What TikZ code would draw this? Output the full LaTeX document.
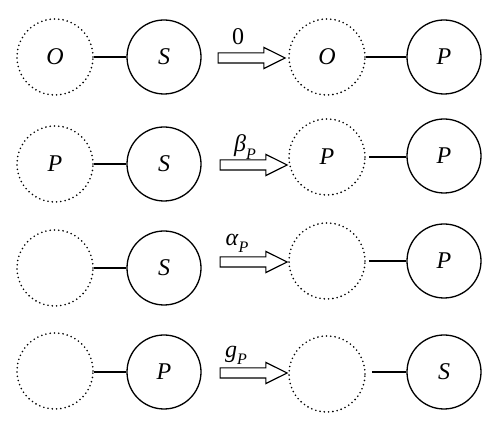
\documentclass[tikz,border=0pt]{standalone}
\usepackage{fontspec}
\setmainfont{Liberation Serif}
\usetikzlibrary{shapes.arrows}
\newcommand{\subP}{\raisebox{-0.3em}{\fontsize{16}{18}\selectfont\itshape P}}
\begin{document}
\begin{tikzpicture}[x=1pt,y=1pt,
  lbl/.style={font=\fontsize{24}{28}\selectfont},
  solidcirc/.style={circle,draw,line width=1.3pt,minimum size=74pt,inner sep=0pt,lbl},
  dotcirc/.style={circle,draw,line width=1.8pt,dash pattern=on 0pt off 4.3pt,line cap=round,minimum size=76pt,inner sep=0pt,lbl},
  link/.style={line width=1.2pt},
  fat/.style={single arrow,draw,line width=1.2pt,minimum height=67pt,inner sep=4.5pt,
     single arrow head extend=5.5pt,single arrow tip angle=53,single arrow head indent=0pt}]
\useasboundingbox (0,0) rectangle (500,430);
% Row 1
\node[dotcirc]   (a1) at (55,373) {\textit{O}};
\node[solidcirc] (b1) at (164,373) {\textit{S}};
\node[fat]       (f1) at (246.5,372) {};
\node[dotcirc]   (c1) at (327,373) {\textit{O}};
\node[solidcirc] (d1) at (444,373) {\textit{P}};
\node[lbl]       (t1) at (238,393) {0};
\draw[link] (a1) -- (b1);
\draw[link] (c1) -- (d1);
% Row 2
\node[dotcirc]   (a2) at (55,266) {\textit{P}};
\node[solidcirc] (b2) at (164,266) {\textit{S}};
\node[fat]       (f2) at (248.5,265) {};
\node[dotcirc]   (c2) at (327,273) {\textit{P}};
\node[solidcirc] (d2) at (444,274) {\textit{P}};
\node[lbl]       (t2) at (245,283) {\textit{β}\subP};
\draw[link] (a2) -- (b2);
\draw[link,shorten <=3pt] (c2.east) -- (d2.west |- c2.east);
% Row 3
\node[dotcirc]   (a3) at (55,162) {};
\node[solidcirc] (b3) at (164,162) {\textit{S}};
\node[fat]       (f3) at (248.5,168) {};
\node[dotcirc]   (c3) at (327,169) {};
\node[solidcirc] (d3) at (444,169) {\textit{P}};
\node[lbl]       (t3) at (237,187) {\textit{α}\subP};
\draw[link] (a3) -- (b3);
\draw[link,shorten <=3pt] (c3) -- (d3);
% Row 4
\node[dotcirc]   (a4) at (55,59) {};
\node[solidcirc] (b4) at (164,58) {\textit{P}};
\node[fat]       (f4) at (248.5,57) {};
\node[dotcirc]   (c4) at (327,56) {};
\node[solidcirc] (d4) at (444,58) {\textit{S}};
\node[lbl]       (t4) at (236,75) {\textit{g}\subP};
\draw[link] (a4.east |- b4.west) -- (b4.west);
\draw[link,shorten <=6pt] (c4.east |- d4.west) -- (d4.west);
\end{tikzpicture}
\end{document}
